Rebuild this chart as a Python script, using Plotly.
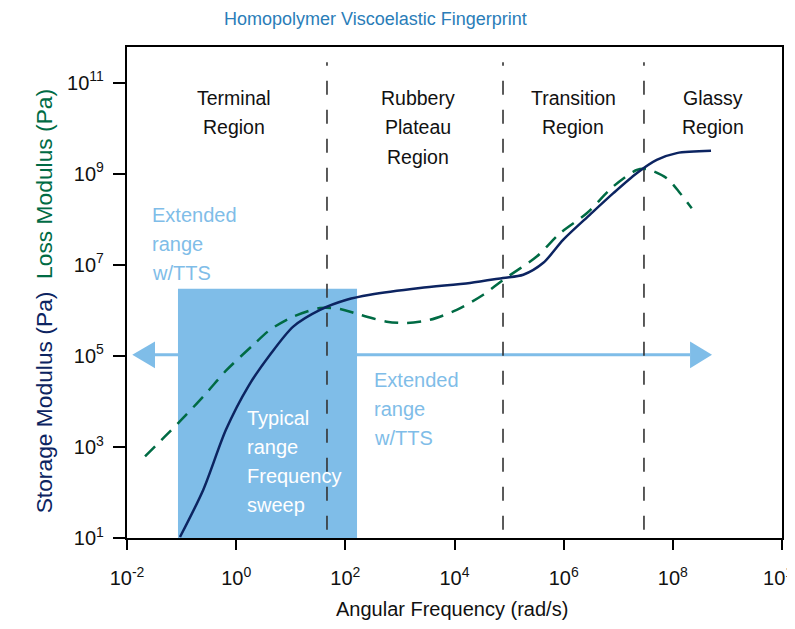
import plotly.graph_objects as go

# ---------------- data ----------------
storage_freq = [9.35e-2, 2.50e-1, 6.52e-1, 1.67, 4.17, 1.11e1, 3.44e1, 1.06e2, 2.83e2,
                2.33e3, 1.92e4, 7.74e4, 1.82e5, 4.24e5, 9.86e5, 3.04e6, 8.13e6,
                2.18e7, 5.07e7, 1.18e8, 5.01e8]
storage_mod = [1.05e1, 1.15e2, 2.40e3, 2.14e4, 1.05e5, 4.37e5, 1.02e6, 1.70e6, 2.19e6,
               3.09e6, 3.98e6, 5.13e6, 6.03e6, 1.10e7, 3.55e7, 1.26e8, 3.72e8,
               1.02e9, 2.00e9, 2.82e9, 3.16e9]

loss_freq = [2.14e-2, 4.97e-2, 1.16e-1, 2.88e-1, 6.71e-1, 2.06, 4.17, 1.11e1, 3.44e1,
             8.00e1, 1.86e2, 5.73e2, 1.33e3, 3.56e3, 1.10e4, 3.37e4, 7.83e4, 3.21e5,
             8.57e5, 2.65e6, 8.13e6, 2.18e7, 3.33e7, 7.73e7, 1.36e8, 2.22e8]
loss_mod = [6.17e2, 1.70e3, 4.79e3, 1.55e4, 4.90e4, 1.74e5, 3.72e5, 7.24e5, 1.12e6,
            1.07e6, 7.94e5, 5.62e5, 5.25e5, 6.17e5, 1.02e6, 2.19e6, 4.68e6, 1.51e7,
            4.90e7, 1.35e8, 5.25e8, 1.20e9, 1.26e9, 7.94e8, 3.72e8, 1.74e8]

region_bounds = [4.61e1, 7.74e4, 2.96e7]
region_bound_span = [1.51e1, 2.8e11]

typical_freq_range = [8.59e-2, 1.637e2]
typical_mod_range = [1.0e1, 2.96e6]

arrow_level = 1.05e5
arrow_left = [1.25e-2, 3.26e-2]     # tip, base
arrow_right = [2.07e8, 5.22e8]      # base, tip
arrow_head_span = [5.3e4, 2.07e5]

x_tick_exps = [-2, 0, 2, 4, 6, 8, 10]
y_tick_exps = [1, 3, 5, 7, 9, 11]

region_lines = [["Terminal", "Region"], ["Rubbery", "Plateau", "Region"],
                ["Transition", "Region"], ["Glassy", "Region"]]
extended_lines = ["Extended", "range", "w/TTS"]
typical_lines = ["Typical", "range", "Frequency", "sweep"]

# ---------------- layout positions (log10 units) ----------------
region_label_x = [-0.04, 3.332, 6.172, 8.737]
region_line_y = [10.671, 10.034, 9.376]
ext_left_x, ext_left_y = -1.579, [8.096, 7.460, 6.823]
ext_right_x, ext_right_y = 2.489, [4.475, 3.838, 3.201]
typ_x, typ_y = 0.162, [3.640, 3.004, 2.367, 1.731]

# ---------------- styles ----------------
NAVY = "#0c2461"
GREEN = "#006b44"
LIGHT = "#7fbde8"
GRAY = "#333333"
TITLE_BLUE = "#2a7db8"
SANS = "Liberation Sans, Arial, sans-serif"
TXT = "#111111"

fig = go.Figure()

# arrow (extended range)
fig.add_trace(go.Scatter(x=[arrow_left[1], arrow_right[0]], y=[arrow_level, arrow_level],
                         mode="lines", line=dict(color=LIGHT, width=3),
                         hoverinfo="skip", showlegend=False))
fig.add_trace(go.Scatter(x=[arrow_left[0], arrow_left[1], arrow_left[1], arrow_left[0]],
                         y=[arrow_level, arrow_head_span[1], arrow_head_span[0], arrow_level],
                         mode="lines", fill="toself", fillcolor=LIGHT,
                         line=dict(color=LIGHT, width=0), hoverinfo="skip", showlegend=False))
fig.add_trace(go.Scatter(x=[arrow_right[1], arrow_right[0], arrow_right[0], arrow_right[1]],
                         y=[arrow_level, arrow_head_span[1], arrow_head_span[0], arrow_level],
                         mode="lines", fill="toself", fillcolor=LIGHT,
                         line=dict(color=LIGHT, width=0), hoverinfo="skip", showlegend=False))

# typical range box
x0, x1 = typical_freq_range
y0, y1 = typical_mod_range
fig.add_trace(go.Scatter(x=[x0, x1, x1, x0, x0], y=[y0, y0, y1, y1, y0],
                         mode="lines", fill="toself", fillcolor=LIGHT,
                         line=dict(color=LIGHT, width=0), hoverinfo="skip", showlegend=False))

# region boundaries
for b in region_bounds:
    fig.add_trace(go.Scatter(x=[b, b], y=region_bound_span, mode="lines",
                             line=dict(color=GRAY, width=1.6, dash="14px,15px"),
                             hoverinfo="skip", showlegend=False))

# loss modulus
fig.add_trace(go.Scatter(x=loss_freq, y=loss_mod, mode="lines", name="Loss Modulus",
                         line=dict(color=GREEN, width=2.5, dash="14px,9px",
                                   shape="spline", smoothing=0.8),
                         showlegend=False))
# storage modulus
fig.add_trace(go.Scatter(x=storage_freq, y=storage_mod, mode="lines", name="Storage Modulus",
                         line=dict(color=NAVY, width=2.5, shape="spline", smoothing=0.8),
                         showlegend=False))

annotations = []


def add_lines(lines, x, ys, size, color, xanchor):
    for line, y in zip(lines, ys):
        annotations.append(dict(x=x, y=y, xref="x", yref="y", text=line, showarrow=False,
                                xanchor=xanchor, yanchor="middle",
                                font=dict(family=SANS, size=size, color=color)))


for lines, lx in zip(region_lines, region_label_x):
    add_lines(lines, lx, region_line_y, 19.5, TXT, "center")

add_lines(extended_lines, ext_left_x, ext_left_y, 20, LIGHT, "left")
add_lines(extended_lines, ext_right_x, ext_right_y, 20, LIGHT, "left")
add_lines(typical_lines, typ_x, typ_y, 20, "white", "left")

# title
annotations.append(dict(x=0.380, y=1.057, xref="paper", yref="paper",
                        text="Homopolymer Viscoelastic Fingerprint", showarrow=False,
                        xanchor="center", yanchor="middle",
                        font=dict(family=SANS, size=18, color=TITLE_BLUE)))
# y title (two colours)
annotations.append(dict(x=-0.1267, y=0.482, xref="paper", yref="paper", textangle=-90,
                        text=(f'<span style="color:{NAVY}">Storage Modulus (Pa)</span>'
                              f'&nbsp;&nbsp;<span style="color:{GREEN}">Loss Modulus (Pa)</span>'),
                        showarrow=False, xanchor="center", yanchor="middle",
                        font=dict(family=SANS, size=22.8)))
# x title
annotations.append(dict(x=0.496, y=-0.144, xref="paper", yref="paper",
                        text="Angular Frequency (rad/s)", showarrow=False,
                        xanchor="center", yanchor="middle",
                        font=dict(family=SANS, size=20, color=TXT)))

# the page body has an 8px default margin, so the figure is sized to fit in the window
fig.update_layout(
    width=787, height=621,
    margin=dict(l=119, r=13, t=39, b=91),
    paper_bgcolor="white", plot_bgcolor="white",
    annotations=annotations,
    showlegend=False,
)
fig.update_xaxes(type="log", range=[-2, 10], automargin=False,
                 tickvals=[10 ** e for e in x_tick_exps],
                 ticktext=[f"10<sup>{e}</sup>" for e in x_tick_exps],
                 ticklabeloverflow="allow",
                 showgrid=False, zeroline=False,
                 showline=True, mirror=True, linecolor="black", linewidth=2.2,
                 ticks="outside", ticklen=10, tickwidth=2, tickcolor="black",
                 ticklabelstandoff=11,
                 tickfont=dict(family=SANS, size=20, color=TXT))
fig.update_yaxes(type="log", range=[1, 11.78], automargin=False,
                 tickvals=[10 ** e for e in y_tick_exps],
                 ticktext=[f"10<sup>{e}</sup>" for e in y_tick_exps],
                 ticklabeloverflow="allow",
                 showgrid=False, zeroline=False,
                 showline=True, mirror=True, linecolor="black", linewidth=2.2,
                 ticks="outside", ticklen=12, tickwidth=2, tickcolor="black",
                 ticklabelstandoff=5,
                 tickfont=dict(family=SANS, size=20, color=TXT))

fig.write_html("out.html")
